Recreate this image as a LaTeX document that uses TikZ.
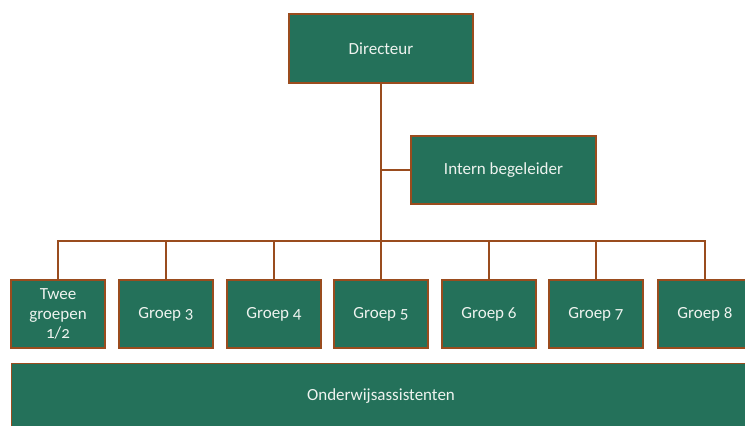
\documentclass[tikz,border=0pt]{standalone}
\usepackage{fontspec}
\setmainfont{Carlito}[Numbers=OldStyle]
\definecolor{boxgreen}{HTML}{24715A}
\definecolor{boxbrown}{HTML}{9A4C1E}
\definecolor{txtwhite}{HTML}{EEF3EF}
\begin{document}
\begin{tikzpicture}[x=1pt,y=-1pt,
  orgbox/.style={draw=boxbrown,line width=1.4pt,fill=boxgreen,text=txtwhite,
    rectangle,inner sep=0pt,align=center,font=\fontsize{17}{19.5}\selectfont},
  conn/.style={draw=boxbrown,line width=1.1pt}]
\useasboundingbox (0,0) rectangle (745,426);
\begin{scope}
\clip (0,0) rectangle (745,426);
\node[orgbox,minimum width=184pt,minimum height=69pt] (dir) at (381,48.5) {Directeur};
\node[orgbox,minimum width=185pt,minimum height=68pt] (ib) at (503.5,170) {Intern begeleider};
\node[orgbox,minimum width=94pt,minimum height=68pt] (g12) at (58,314) {Twee\\groepen\\1/2};
\node[orgbox,minimum width=94pt,minimum height=68pt] (g3) at (166,314) {Groep 3};
\node[orgbox,minimum width=94pt,minimum height=68pt] (g4) at (274,314) {Groep 4};
\node[orgbox,minimum width=94pt,minimum height=68pt] (g5) at (381,314) {Groep 5};
\node[orgbox,minimum width=94pt,minimum height=68pt] (g6) at (489,314) {Groep 6};
\node[orgbox,minimum width=94pt,minimum height=68pt] (g7) at (596,314) {Groep 7};
\node[orgbox,minimum width=94pt,minimum height=68pt] (g8) at (705,314) {Groep 8};
\node[orgbox,minimum width=760pt,minimum height=90pt,anchor=north west] (oa) at (11,363) {};
\node[text=txtwhite,font=\fontsize{17}{19.5}\selectfont] (oat) at (381,396) {Onderwijsassistenten};
\coordinate (bus) at (381,241);
\draw[conn] (dir.south) -- (g5.north);
\draw[conn] (dir.south |- ib.west) -- (ib.west);
\draw[conn] (g12.north) |- (bus) -| (g8.north);
\foreach \g in {g3,g4,g6,g7} \draw[conn] (\g.north) -- (\g.north |- bus);
\end{scope}
\end{tikzpicture}
\end{document}
